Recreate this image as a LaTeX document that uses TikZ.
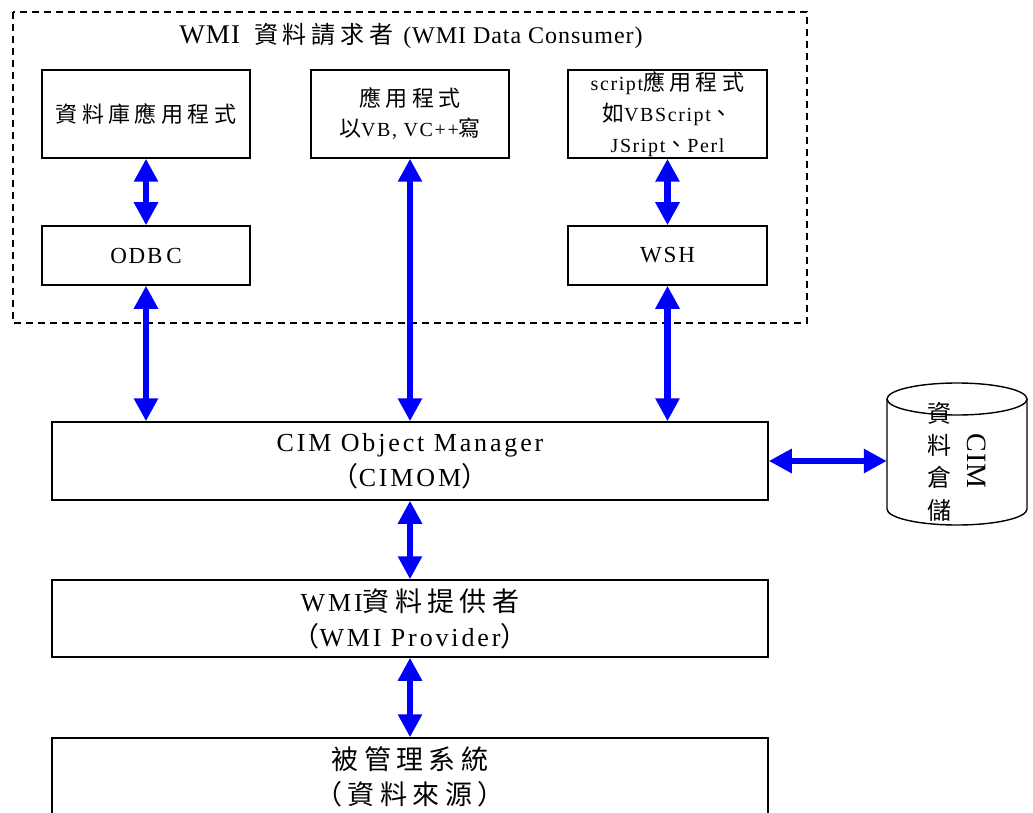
\documentclass[tikz,border=0pt]{standalone}
\usepackage{fontspec}
\setmainfont{Liberation Serif}
\newfontfamily\lat[LetterSpace=8]{Liberation Serif}
\newfontfamily\latwide[LetterSpace=11]{Liberation Serif}
\newfontfamily\latnarrow[LetterSpace=4]{Liberation Serif}
\newfontfamily\cjk[LetterSpace=20]{Noto Sans CJK TC}
\newfontfamily\cjkplain{Noto Sans CJK TC}
\usetikzlibrary{arrows.meta}

% CJK runs are set at a slightly larger size than the Latin around them
\newcommand\zh[1]{{\fontsize{22}{30}\selectfont\cjk #1}}
\newcommand\zhbig[1]{{\fontsize{27}{35}\selectfont\cjk #1}}

\tikzset{
  box/.style={draw=black, line width=1.5pt, fill=white, inner sep=0pt, align=center},
  smalltext/.style={font=\fontsize{20}{30}\selectfont\lat},
  bigtext/.style={font=\fontsize{26}{35}\selectfont\latwide},
  link/.style={draw=blue, line width=6.5pt,
    {Triangle[length=23pt, width=23pt]}-{Triangle[length=23pt, width=23pt]}, shorten <=0pt, shorten >=0pt},
  groupframe/.style={draw=black, line width=1.3pt, dash pattern=on 7pt off 5pt}
}

\begin{document}
\begin{tikzpicture}[x=1pt, y=-1pt]
\useasboundingbox (0,0) rectangle (1033,813);
\clip (0,0) rectangle (1033,813);

% consumer group frame and its title
\draw[groupframe] (13,12) rectangle (807,323);
\node[inner sep=0pt] (title) at (411,36)
  {{\fontsize{27}{30}\selectfont\latnarrow WMI}\hspace{14pt}{\fontsize{24}{30}\selectfont\cjk 資料請求者}\hspace{10pt}{\fontsize{24}{30}\selectfont\latnarrow (WMI Data Consumer)}};

% consumer applications
\node[box, smalltext, minimum width=208pt, minimum height=88pt] (db) at (146,114) {\zh{資料庫應用程式}};
\node[box, smalltext, minimum width=198pt, minimum height=88pt] (app) at (410,114) {\zh{應用程式}\\\zh{以}VB, VC++\zh{寫}};
\node[box, font=\fontsize{20}{31}\selectfont\lat, minimum width=199pt, minimum height=88pt] (scr) at (667.5,114)
  {script\zh{應用程式}\\\zh{如}VBScript\zh{、}\\JSript\zh{、}Perl};

% access layers
\node[box, font=\fontsize{23}{30}\selectfont\lat, minimum width=208pt, minimum height=59pt] (odbc) at (146,255.5) {ODB\,C};
\node[box, font=\fontsize{23}{30}\selectfont\lat, minimum width=199pt, minimum height=59pt] (wsh) at (667.5,255.5) {WSH};

% core layers
\node[box, bigtext, minimum width=716pt, minimum height=78pt] (cimom) at (410,461) {CIM Object Manager\\\zhbig{（}CIMOM\zhbig{）}};
\node[box, bigtext, minimum width=716pt, minimum height=77pt] (prov) at (410,618.5) {WMI\zhbig{資料提供者}\\\zhbig{（}WMI Provider\zhbig{）}};
\node[box, bigtext, minimum width=716pt, minimum height=77pt] (sys) at (410,776.5) {\zhbig{被管理系統}\\\zhbig{（資料來源）}};

% CIM repository drawn as a cylinder
\node[minimum width=140pt, minimum height=142pt, inner sep=0pt] (cim) at (957,454) {};
\draw[line width=1.4pt, fill=white] (887,399) -- (887,509) arc[start angle=180, end angle=0, x radius=70, y radius=16] -- (1027,399);
\draw[line width=1.4pt] (957,399) ellipse[x radius=70, y radius=16];
\node[font=\fontsize{24}{32.3}\selectfont\cjkplain, align=center, inner sep=0pt] (cimzh) at (939,461.5) {資\\料\\倉\\儲};
\node[font=\fontsize{28}{30}\selectfont\latnarrow, rotate=-90, inner sep=0pt] (cimen) at (977,461) {CIM};

% data flows
\draw[link] (db.south) -- (odbc.north);
\draw[link] (scr.south -| wsh.north) -- (wsh.north);
\draw[link] (odbc.south) -- (odbc.south |- cimom.north);
\draw[link] (app.south) -- (app.south |- cimom.north);
\draw[link] (wsh.south) -- (wsh.south |- cimom.north);
\draw[link] (cimom.south) -- (prov.north);
\draw[link] (prov.south) -- (sys.north);
\draw[link] (cimom.east) -- (cimom.east -| cim.west);
\end{tikzpicture}
\end{document}
